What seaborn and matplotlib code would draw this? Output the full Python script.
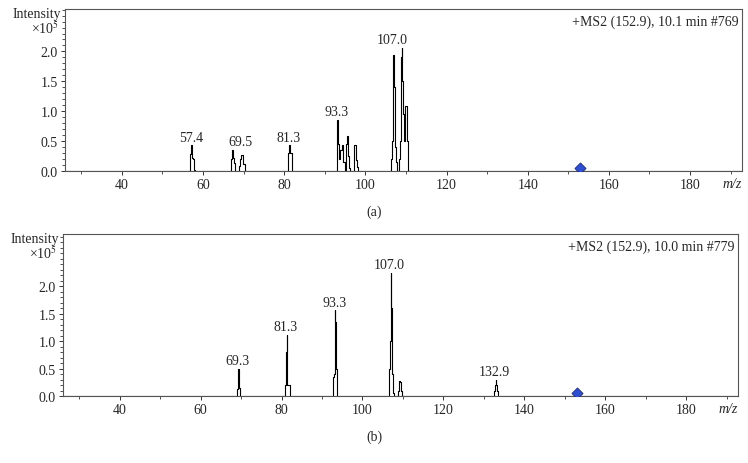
import numpy as np
import pandas as pd
import matplotlib.pyplot as plt
import matplotlib.ticker as mticker
import seaborn as sns

# Spectrum (a): +MS2 (152.9), 10.1 min #769  (intensity in 1e5)
mz_a = [26.0,
        56.8, 57.0, 57.25, 57.5, 57.75, 58.0, 58.2,
        66.7, 66.9, 67.15, 67.4, 67.65, 67.9, 68.1,
        68.8, 69.0, 69.25, 69.5, 69.75, 70.0, 70.2, 70.4,
        80.9, 81.1, 81.35, 81.6, 81.85, 82.0,
        92.8, 93.0, 93.25, 93.5, 93.75, 94.0, 94.25, 94.5, 94.75, 95.0,
        95.1, 95.3, 95.55, 95.8, 96.05, 96.3,
        97.0, 97.2, 97.45, 97.7, 97.95, 98.2, 98.4,
        106.3, 106.5, 106.7, 106.85, 107.0, 107.15, 107.35, 107.6, 107.9,
        108.2, 108.4, 108.6, 108.75, 108.9, 109.05, 109.2, 109.35, 109.5,
        109.65, 109.8, 109.95, 110.1, 110.3, 110.5, 110.7,
        193.0]
int_a = [0.0,
         0.0, 0.28, 0.43, 0.22, 0.20, 0.02, 0.0,
         0.0, 0.20, 0.35, 0.22, 0.14, 0.14, 0.0,
         0.0, 0.08, 0.20, 0.26, 0.26, 0.12, 0.12, 0.0,
         0.0, 0.30, 0.43, 0.30, 0.30, 0.0,
         0.0, 0.68, 0.85, 0.45, 0.20, 0.35, 0.44, 0.15, 0.15, 0.0,
         0.0, 0.45, 0.59, 0.25, 0.05, 0.0,
         0.0, 0.30, 0.44, 0.18, 0.06, 0.06, 0.0,
         0.0, 0.20, 0.50, 1.10, 1.94, 1.40, 0.40, 0.15, 0.0,
         0.0, 0.20, 0.50, 0.95, 1.90, 2.06, 1.50, 0.95, 0.90,
         0.50, 0.80, 1.09, 1.09, 0.50, 0.10, 0.0,
         0.0]
labels_a = [57.4, 69.5, 81.3, 93.3, 107.0]
title_a = '+MS2 (152.9), 10.1 min #769'

# Spectrum (b): +MS2 (152.9), 10.0 min #779
mz_b = [26.0,
        68.9, 69.1, 69.3, 69.5, 69.7, 69.9,
        80.7, 80.9, 81.05, 81.2, 81.35, 81.5, 81.7, 81.9, 82.1,
        92.7, 92.9, 93.05, 93.2, 93.35, 93.5, 93.7, 93.9,
        106.4, 106.6, 106.75, 106.9, 107.05, 107.2, 107.35, 107.55, 107.8,
        108.8, 109.0, 109.15, 109.3, 109.5, 109.7, 109.9,
        132.5, 132.7, 132.85, 133.0, 133.15, 133.35, 133.5,
        193.0]
int_b = [0.0,
         0.0, 0.12, 0.49, 0.15, 0.15, 0.0,
         0.0, 0.08, 0.20, 0.80, 1.11, 0.20, 0.20, 0.20, 0.0,
         0.0, 0.35, 0.40, 1.56, 1.35, 0.50, 0.10, 0.0,
         0.0, 0.05, 0.50, 1.00, 2.24, 1.60, 0.40, 0.05, 0.0,
         0.0, 0.10, 0.28, 0.25, 0.10, 0.10, 0.0,
         0.0, 0.10, 0.20, 0.29, 0.20, 0.10, 0.0,
         0.0]
labels_b = [69.3, 81.3, 93.3, 107.0, 132.9]
title_b = '+MS2 (152.9), 10.0 min #779'

precursor_mz = 152.9
precursor_int = 0.05
y_ticks = [0.0, 0.5, 1.0, 1.5, 2.0]
x_ticks = [40, 60, 80, 100, 120, 140, 160, 180]

sns.set_style('ticks')
plt.rcParams['font.family'] = ['Liberation Serif', 'DejaVu Serif']
plt.rcParams['mathtext.fontset'] = 'stix'

fig = plt.figure(figsize=(7.48, 4.64), dpi=100)
W, H = 748.0, 464.0


def draw_spectrum(rect, mz, inten, labels, title, ymax):
    ax = fig.add_axes(rect)
    df = pd.DataFrame({'mz': mz, 'intensity': inten})
    sns.lineplot(data=df, x='mz', y='intensity', ax=ax, color='black',
                 linewidth=0.8, drawstyle='steps-mid', sort=False,
                 estimator=None)
    sns.scatterplot(x=[precursor_mz], y=[precursor_int], ax=ax, marker='D',
                    s=32, color='#2f4fd0', edgecolor='#1a2a70', linewidth=0.6,
                    zorder=5)
    mz_arr = np.array(mz)
    in_arr = np.array(inten)
    for lab in labels:
        near = np.abs(mz_arr - lab) <= 2.5
        top = in_arr[near].max()
        ax.text(lab - 0.3, top + 0.03, f'{lab:.1f}', ha='center', va='bottom',
                fontsize=10)
    ax.text(0.995, 0.965, title, transform=ax.transAxes, ha='right', va='top',
            fontsize=10)
    ax.set_xlim(26, 192.8)
    ax.set_ylim(0, ymax)
    ax.set_xticks(x_ticks)
    ax.set_xticklabels([str(v) for v in x_ticks])
    ax.xaxis.set_minor_locator(mticker.MultipleLocator(10))
    ax.set_yticks(y_ticks)
    ax.set_yticklabels([f'{v:.1f}' for v in y_ticks])
    ax.yaxis.set_minor_locator(mticker.MultipleLocator(0.1))
    ax.tick_params(axis='both', which='major', labelsize=10, length=3,
                   width=0.7, color='#333333', pad=2)
    ax.tick_params(axis='both', which='minor', length=2, width=0.6,
                   color='#333333')
    for s in ax.spines.values():
        s.set_visible(True)
        s.set_linewidth(0.8)
        s.set_color('#555555')
    ax.set_xlabel('')
    ax.set_ylabel('')
    ax.text(1.0, -0.035, 'm/z', transform=ax.transAxes, ha='right', va='top',
            fontsize=10, style='italic')
    ax.text(-0.005, 0.975, 'Intensity', transform=ax.transAxes, ha='right',
            va='center', fontsize=10)
    ax.text(-0.008, 0.885, '\u00d710$^{5}$', transform=ax.transAxes,
            ha='right', va='center', fontsize=10)
    return ax


draw_spectrum([65 / W, (H - 172) / H, 677 / W, 162 / H],
              mz_a, int_a, labels_a, title_a, 2.71)
draw_spectrum([63 / W, (H - 397) / H, 675 / W, 162 / H],
              mz_b, int_b, labels_b, title_b, 2.95)

fig.text(374 / W, 1 - 212 / H, '(a)', ha='center', va='center', fontsize=10)
fig.text(374 / W, 1 - 437 / H, '(b)', ha='center', va='center', fontsize=10)

fig.savefig('out.png', dpi=100)
